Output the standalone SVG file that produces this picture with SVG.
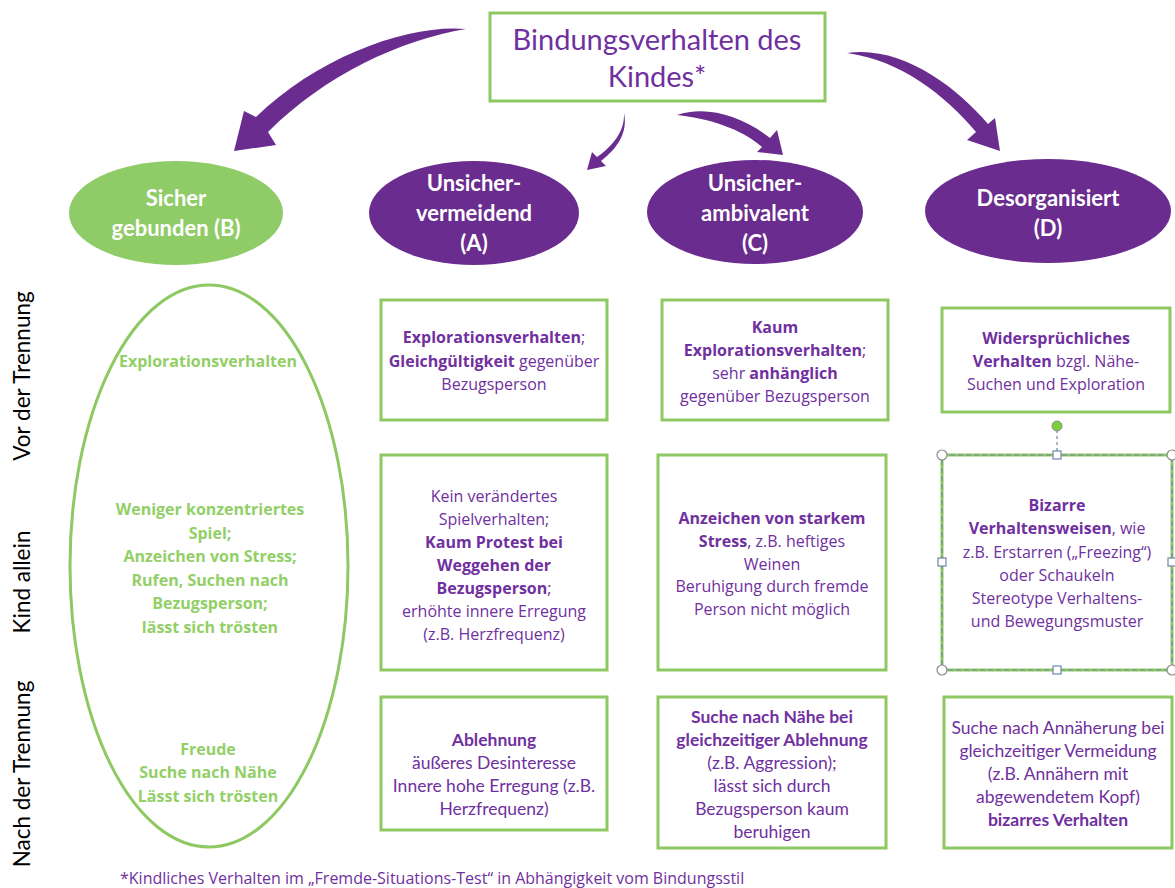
<svg xmlns="http://www.w3.org/2000/svg" width="1175" height="888" viewBox="0 0 1175 888">
<defs>
<style>
.box{fill:#fff;stroke:#8DC863;stroke-width:3}
.t{font-family:"Open Sans","Noto Sans",sans-serif;font-size:16px;fill:#7030A0;text-anchor:middle}
.c{font-family:Lato,"Liberation Sans",sans-serif;font-size:17.5px;fill:#7030A0;text-anchor:middle}
.ti{font-family:Lato,"Liberation Sans",sans-serif;font-size:29px;fill:#7030A0;text-anchor:middle}
.b{font-weight:bold}
.g{font-family:"Open Sans","Noto Sans",sans-serif;font-size:16px;font-weight:bold;fill:#92CF67;text-anchor:middle}
.el{font-family:Lato,"Liberation Sans",sans-serif;font-size:22px;font-weight:bold;fill:#fff;text-anchor:middle}
.lab{font-family:Lato,"Liberation Sans",sans-serif;font-size:22.5px;fill:#000;text-anchor:middle}
.arrow{fill:#6A2C8E}
.hc{fill:#fff;stroke:#8A8A8A;stroke-width:1.2}
.hs{fill:#fff;stroke:#6F86A8;stroke-width:1.2}
.fn{font-family:"Open Sans","Noto Sans",sans-serif;font-size:16px;fill:#7030A0}
</style>
</defs>
<rect width="1175" height="888" fill="#fff"/>

<g id="connectors">
<path class="arrow" d="M466,29 C410,24 320,55 256,117 L244,111 L234,151 L276,145 L268,132 C325,75 400,40 466,29 Z"/>
<path class="arrow" d="M624,113 C625,131 613,146 597,157 L592,152 L587,170 L606,166 L601,161 C618,148 628,132 624,113 Z"/>
<path class="arrow" d="M677,115 C707,105 742,116 770,138 L777,130 L783,155 L757,152 L762,147 C740,128 710,119 677,115 Z"/>
<path class="arrow" d="M847,53 C900,45 955,85 988,124 L995,118 L1000,151 L967,140 L976,132 C945,95 900,60 847,53 Z"/>
</g>

<g id="title">
<rect class="box" x="490" y="13" width="335" height="88"/>
<text class="ti" x="657" y="50">Bindungsverhalten des</text>
<text class="ti" x="657" y="87">Kindes*</text>
</g>

<g id="sicher">
<ellipse cx="176" cy="213" rx="107" ry="52" fill="#8FCB66"/>
<text class="el" x="176" y="206">Sicher</text>
<text class="el" x="176" y="236">gebunden (B)</text>
</g>
<g id="vermeidend">
<ellipse cx="474" cy="213" rx="105" ry="52" fill="#6A2C8E"/>
<text class="el" x="474" y="191">Unsicher-</text>
<text class="el" x="474" y="221">vermeidend</text>
<text class="el" x="474" y="251">(A)</text>
</g>
<g id="ambivalent">
<ellipse cx="755" cy="212" rx="108" ry="52" fill="#6A2C8E"/>
<text class="el" x="755" y="191">Unsicher-</text>
<text class="el" x="755" y="221">ambivalent</text>
<text class="el" x="755" y="251">(C)</text>
</g>
<g id="desorganisiert">
<ellipse cx="1048" cy="211" rx="123" ry="52" fill="#6A2C8E"/>
<text class="el" x="1048" y="206">Desorganisiert</text>
<text class="el" x="1048" y="236">(D)</text>
</g>

<g id="labels">
<text class="lab" transform="translate(30,376) rotate(-90)">Vor der Trennung</text>
<text class="lab" transform="translate(30,582) rotate(-90)">Kind allein</text>
<text class="lab" transform="translate(30,774) rotate(-90)">Nach der Trennung</text>
</g>

<g id="sicher-detail">
<ellipse cx="209" cy="566" rx="139" ry="281" fill="none" stroke="#8DC863" stroke-width="3"/>
<text class="g" x="208" y="367">Explorationsverhalten</text>
<text class="g" x="210" y="515">Weniger konzentriertes</text>
<text class="g" x="210" y="539">Spiel;</text>
<text class="g" x="210" y="562">Anzeichen von Stress;</text>
<text class="g" x="210" y="586">Rufen, Suchen nach</text>
<text class="g" x="210" y="609">Bezugsperson;</text>
<text class="g" x="210" y="633">lässt sich trösten</text>
<text class="g" x="208" y="755">Freude</text>
<text class="g" x="208" y="778">Suche nach Nähe</text>
<text class="g" x="208" y="802">Lässt sich trösten</text>
</g>

<g id="a1">
<rect class="box" x="381" y="300" width="226" height="120"/>
<text class="t" x="494" y="343"><tspan class="b">Explorationsverhalten</tspan>;</text>
<text class="t" x="494" y="367"><tspan class="b">Gleichgültigkeit</tspan> gegenüber</text>
<text class="t" x="494" y="390">Bezugsperson</text>
</g>
<g id="c1">
<rect class="box" x="662" y="300" width="226" height="120"/>
<text class="t b" x="775" y="333">Kaum</text>
<text class="t" x="775" y="356"><tspan class="b">Explorationsverhalten</tspan>;</text>
<text class="t" x="775" y="379">sehr <tspan class="b">anhänglich</tspan></text>
<text class="t" x="775" y="402">gegenüber Bezugsperson</text>
</g>
<g id="d1">
<rect class="box" x="942" y="308" width="228" height="104"/>
<text class="t b" x="1056" y="344">Widersprüchliches</text>
<text class="t" x="1056" y="367"><tspan class="b">Verhalten</tspan> bzgl. Nähe-</text>
<text class="t" x="1056" y="390">Suchen und Exploration</text>
</g>

<g id="a2">
<rect class="box" x="381" y="455" width="226" height="215"/>
<text class="t" x="494" y="502">Kein verändertes</text>
<text class="t" x="494" y="525">Spielverhalten;</text>
<text class="t b" x="494" y="548">Kaum Protest bei</text>
<text class="t b" x="494" y="571">Weggehen der</text>
<text class="t" x="494" y="594"><tspan class="b">Bezugsperson</tspan>;</text>
<text class="t" x="494" y="617">erhöhte innere Erregung</text>
<text class="t" x="494" y="640">(z.B. Herzfrequenz)</text>
</g>
<g id="c2">
<rect class="box" x="658" y="455" width="228" height="215"/>
<text class="t b" x="772" y="524">Anzeichen von starkem</text>
<text class="t" x="772" y="547"><tspan class="b">Stress</tspan>, z.B. heftiges</text>
<text class="t" x="772" y="570">Weinen</text>
<text class="t" x="772" y="592">Beruhigung durch fremde</text>
<text class="t" x="772" y="615">Person nicht möglich</text>
</g>
<g id="d2">
<rect class="box" x="942" y="455" width="230" height="215"/>
<text class="t b" x="1057" y="511">Bizarre</text>
<text class="t" x="1057" y="534"><tspan class="b">Verhaltensweisen</tspan>, wie</text>
<text class="t" x="1057" y="558">z.B. Erstarren („Freezing“)</text>
<text class="t" x="1057" y="581">oder Schaukeln</text>
<text class="t" x="1057" y="604">Stereotype Verhaltens-</text>
<text class="t" x="1057" y="627">und Bewegungsmuster</text>
<rect x="942" y="455" width="230" height="215" fill="none" stroke="#6F86A8" stroke-width="1.2" stroke-dasharray="5,3"/>
<line x1="1057" y1="430" x2="1057" y2="451" stroke="#6F86A8" stroke-width="1.2" stroke-dasharray="3,3"/>
<circle cx="1057" cy="426" r="5" fill="#7ED03B" stroke="#8A8A8A" stroke-width="1"/>
<circle class="hc" cx="942" cy="455" r="5"/>
<circle class="hc" cx="1172" cy="455" r="5"/>
<circle class="hc" cx="942" cy="670" r="5"/>
<circle class="hc" cx="1172" cy="670" r="5"/>
<rect class="hs" x="1053" y="451" width="8" height="8"/>
<rect class="hs" x="1053" y="666" width="8" height="8"/>
<rect class="hs" x="938" y="558" width="8" height="8"/>
<rect class="hs" x="1168" y="558" width="8" height="8"/>
</g>

<g id="a3">
<rect class="box" x="381" y="697" width="226" height="133"/>
<text class="c b" x="494" y="746">Ablehnung</text>
<text class="c" x="494" y="769">äußeres Desinteresse</text>
<text class="c" x="494" y="792">Innere hohe Erregung (z.B.</text>
<text class="c" x="494" y="815">Herzfrequenz)</text>
</g>
<g id="c3">
<rect class="box" x="658" y="697" width="228" height="151"/>
<text class="c b" x="772" y="723">Suche nach Nähe bei</text>
<text class="c b" x="772" y="746">gleichzeitiger Ablehnung</text>
<text class="c" x="772" y="769">(z.B. Aggression);</text>
<text class="c" x="772" y="792">lässt sich durch</text>
<text class="c" x="772" y="815">Bezugsperson kaum</text>
<text class="c" x="772" y="838">beruhigen</text>
</g>
<g id="d3">
<rect class="box" x="944" y="697" width="228" height="151"/>
<text class="c" x="1058" y="734">Suche nach Annäherung bei</text>
<text class="c" x="1058" y="757">gleichzeitiger Vermeidung</text>
<text class="c" x="1058" y="780">(z.B. Annähern mit</text>
<text class="c" x="1058" y="803">abgewendetem Kopf)</text>
<text class="c b" x="1058" y="826">bizarres Verhalten</text>
</g>

<g id="footnote">
<text class="fn" x="120" y="884">*Kindliches Verhalten im „Fremde-Situations-Test“ in Abhängigkeit vom Bindungsstil</text>
</g>
</svg>
